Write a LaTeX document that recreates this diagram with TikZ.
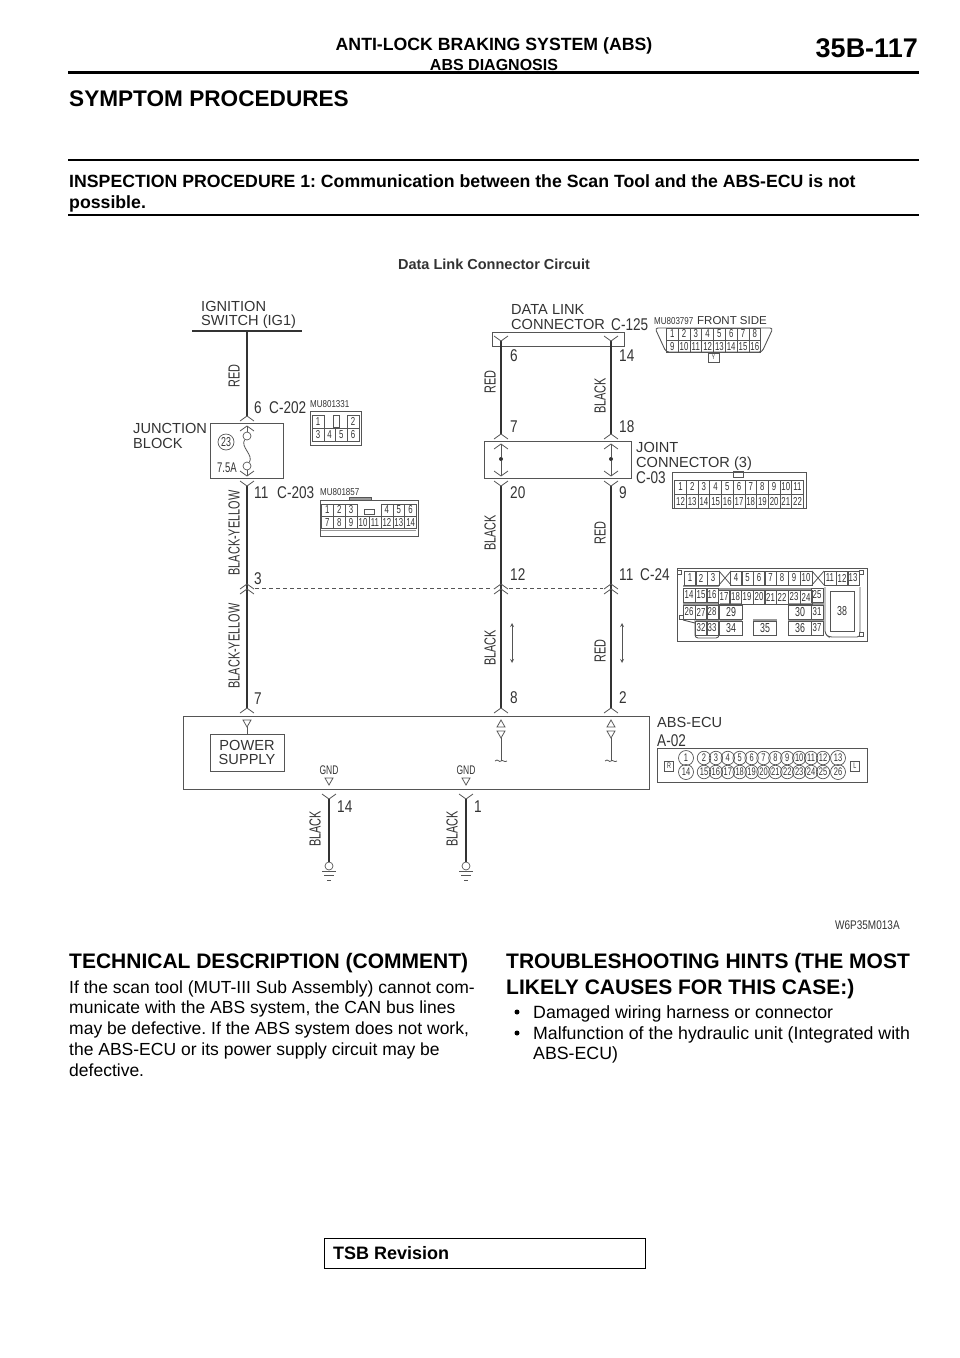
\documentclass[tikz,border=0pt]{standalone}
\usepackage{fontspec}
\usepackage{amsmath}
\setmainfont{Liberation Sans}
\newfontfamily\narrowfont[FakeStretch=0.68]{Liberation Sans}
\newfontfamily\codefont[FakeStretch=0.8]{Liberation Sans}
\usetikzlibrary{positioning, arrows, matrix}
\definecolor{inkdark}{HTML}{333333}
\definecolor{inkline}{HTML}{555555}
\definecolor{inkbar}{HTML}{999999}
\newcommand{\fs}[1]{\fontsize{#1}{#1}\selectfont}
\frenchspacing
\tikzset{
    wire/.style={draw=inkdark, line width=2.1pt},
    thinline/.style={draw=inkline, line width=0.8pt},
    partbox/.style={draw=inkline, line width=0.9pt},
    rulethin/.style={draw=black, line width=1.5pt},
    barline/.style={draw=inkbar, line width=2pt},
    txt/.style={anchor=west, inner sep=0pt, text=black},
    bodytxt/.style={txt, font=\fs{17.5}, text height=15.7pt, text depth=3.2pt},
    hinttxt/.style={bodytxt, font=\fs{17.75}},
    headtxt/.style={txt, font=\bfseries\fs{21}, text height=18.9pt, text depth=3.9pt},
    insptxt/.style={txt, font=\bfseries\fs{17.7}, text height=15.9pt, text depth=3.3pt},
    schem/.style={txt, text=inkdark, font=\fs{14.6}, text height=13.1pt, text depth=2.7pt},
    code/.style={txt, text=inkdark, font=\codefont\fs{17}, text height=15.3pt, text depth=3.1pt},
    wirelab/.style={inner sep=0pt, rotate=90, text=inkdark, font=\narrowfont\fs{16}},
    partno/.style={txt, text=inkdark, font=\codefont\fs{10}, text height=9pt, text depth=1.8pt},
    pin/.style={draw=inkline, line width=0.6pt, inner sep=0pt, minimum width=#1, minimum height=14pt, text=inkdark, font=\narrowfont\fs{11.5}},
    pin/.default=11.7pt,
    pinmatrix/.style={matrix of nodes, inner sep=0pt, column sep=-0.6pt, row sep=-0.6pt, nodes={pin=#1}},
    sock/.style={circle, draw=inkline, line width=0.7pt, inner sep=0pt, minimum size=#1, text=inkdark, font=\narrowfont\fs{11}},
    chevup/.pic={\draw[thinline] (-7,5) -- (0,0) -- (7,5);},
    chevdn/.pic={\draw[thinline] (-7,-5) -- (0,0) -- (7,-5);},
    triup/.pic={\draw[thinline] (-4,7) -- (0,0) -- (4,7) -- cycle;},
    tridn/.pic={\draw[thinline] (-4,0) -- (4,0) -- (0,7) -- cycle;},
    gndbars/.pic={\draw[thinline] (-7,0) -- (7,0) (-5,4) -- (5,4) (-2,9) -- (2,9);},
}
\begin{document}
\begin{tikzpicture}[x=1pt,y=-1pt]
\useasboundingbox (0,0) rectangle (960,1358);
% page head
\node[anchor=center, inner sep=0pt, font=\bfseries\fs{17.7}] (title) at (494,45.5) {ANTI-LOCK BRAKING SYSTEM (ABS)};
\node[anchor=center, inner sep=0pt, font=\bfseries\fs{16}] (subtitle) at (494,64.5) {ABS DIAGNOSIS};
\node[anchor=east, inner sep=0pt, font=\bfseries\fs{27}] (pageno) at (918,48.5) {35B-117};
\draw[draw=black, line width=3pt] (68,72) -- (919,72);
\node[txt, font=\bfseries\fs{22.6}, text height=20.3pt, text depth=4.2pt] (symptom) at (69,98) {SYMPTOM PROCEDURES};
\draw[rulethin] (68,160) -- (919,160);
\node[insptxt] (insp1) at (69,181) {INSPECTION PROCEDURE 1: Communication between the Scan Tool and the ABS-ECU is not};
\node[insptxt] (insp2) at (69,202) {possible.};
\draw[rulethin] (68,215) -- (919,215);
\node[anchor=center, inner sep=0pt, text=inkdark, font=\bfseries\fs{14.5}] (circuit) at (494,264) {Data Link Connector Circuit};
% ignition side
\node[schem] (ignA) at (201,306) {IGNITION};
\node[schem] (ignB) at (201,320) {SWITCH (IG1)};
\coordinate (ignL) at (192,331);
\coordinate (ignR) at (302,331);
\coordinate (ignM) at (247,331);
\draw[draw=inkdark, line width=1.8pt] (ignL) -- (ignR);
\coordinate (c202) at (247,416);
\coordinate (c202b) at (247,426);
\coordinate (c203t) at (247,476);
\coordinate (c203) at (247,486);
\coordinate (s3t) at (247,584);
\coordinate (s3b) at (247,589);
\coordinate (a7) at (247,708);
\draw[wire] (ignM) -- (c202);
\draw[wire] (c203) -- (s3t);
\draw[wire] (s3t) -- (a7);
\pic at (c202) {chevup};
\pic at (c202b) {chevup};
\pic at (c203t) {chevdn};
\pic at (c203) {chevdn};
\pic at (s3t) {chevup};
\pic at (s3b) {chevup};
\pic at (a7) {chevup};
\node[wirelab] (labA) at (234,376) {RED};
\node[wirelab] (labB) at (234,533) {BLACK-YELLOW};
\node[wirelab] (labC) at (234,646) {BLACK-YELLOW};
\node[code] (n6) at (254,407) {6};
\node[code] (c202txt) at (269,407) {C-202};
\node[code] (n11) at (254,492) {11};
\node[code] (c203txt) at (277,492) {C-203};
\node[code] (n3) at (254,578) {3};
\node[code] (n7) at (254,698) {7};
% junction block
\node[schem] (jbA) at (133,428) {JUNCTION};
\node[schem] (jbB) at (133,443) {BLOCK};
\node[partbox, minimum width=73pt, minimum height=55pt, inner sep=0pt] (jb) at (246.5,450.5) {};
\node[sock=8pt] (fuseA) at (247,436) {};
\node[sock=8pt] (fuseB) at (247,466) {};
\draw[thinline] (c202b) -- (fuseA);
\draw[thinline] (fuseB) -- (c203t);
\draw[thinline] (fuseA) .. controls (240,447) and (254,455) .. (fuseB);
\node[sock=16pt, font=\narrowfont\fs{13}] (fuse23) at (226,442) {23};
\node[code, font=\narrowfont\fs{14}] (amps) at (217,466) {7.5A};
% C-202 and C-203 views
\node[partno] (mu1) at (310,404) {MU801331};
\draw[partbox] (310,411) -- (361,411) -- (361,445) -- (310,445) -- cycle;
\matrix (c202m) [pinmatrix=11.7pt, anchor=center, nodes={minimum height=13pt}] at (335.5,428)
{%
    1 & & & 2\\
    3 & 4 & 5 & 6\\
};
\node[draw=inkline, line width=0.6pt, inner sep=0pt, minimum width=6pt, minimum height=12pt] (c202key) at (336,421) {};
\node[partno] (mu2) at (320,492) {MU801857};
\node[partbox, minimum width=98pt, minimum height=36pt, inner sep=0pt] (c203v) at (369,518) {};
\node[draw=inkline, fill=inkbar, line width=0.6pt, inner sep=0pt, minimum width=22pt, minimum height=3pt] (c203key) at (360,498.5) {};
\matrix (c203m) [pinmatrix=11.9pt, anchor=center, nodes={minimum height=12pt}] at (369,516)
{%
    1 & 2 & 3 & & & 4 & 5 & 6\\
    7 & 8 & 9 & 10 & 11 & 12 & 13 & 14\\
};
\node[draw=inkline, line width=0.6pt, inner sep=0pt, minimum width=10pt, minimum height=5pt] (c203notch) at (369,512) {};
\draw[barline, line width=1pt] (c203m.south west) ++(0,2) -- ++(95,0);
% data link side
\node[schem] (dlcA) at (511,309) {DATA LINK};
\node[schem] (dlcB) at (511,324) {CONNECTOR};
\node[code] (c125txt) at (611,324) {C-125};
\node[partbox, minimum width=132pt, minimum height=14pt, inner sep=0pt] (dlc) at (558,339) {};
\foreach \wx/\wn in {501/L, 611/R}
{
    \coordinate (dlc\wn) at (\wx,341);
    \coordinate (jt\wn) at (\wx,434);
    \coordinate (jtb\wn) at (\wx,444);
    \coordinate (jtc\wn) at (\wx,476);
    \coordinate (jbt\wn) at (\wx,486);
    \coordinate (st\wn) at (\wx,584);
    \coordinate (sb\wn) at (\wx,589);
    \coordinate (ec\wn) at (\wx,708);
    \draw[wire] (dlc\wn) -- (jt\wn);
    \draw[wire] (jbt\wn) -- (st\wn);
    \draw[wire] (st\wn) -- (ec\wn);
    \pic at (dlc\wn) {chevdn};
    \pic at (jt\wn) {chevup};
    \pic at (jtb\wn) {chevup};
    \pic at (jtc\wn) {chevdn};
    \pic at (jbt\wn) {chevdn};
    \pic at (st\wn) {chevup};
    \pic at (sb\wn) {chevup};
    \pic at (ec\wn) {chevup};
    \node[circle, fill=inkdark, inner sep=0pt, minimum size=4pt] (dot\wn) at (\wx,459) {};
    \draw[thinline] (jtb\wn) -- (dot\wn);
    \draw[thinline] (dot\wn) -- (jtc\wn);
    % ecu input
    \pic at (\wx,720) {triup};
    \pic at (\wx,731) {tridn};
    \coordinate (ecIn\wn) at (\wx,738);
    \coordinate (ecEnd\wn) at (\wx,761);
    \draw[thinline] (ecIn\wn) -- (ecEnd\wn);
    \draw[thinline] (\wx-6,761) .. controls (\wx-3,758) and (\wx-2,763) .. (ecEnd\wn) .. controls (\wx+2,759) and (\wx+3,763) .. (\wx+6,761);
    % data direction
    \coordinate (flowA\wn) at (\wx+11,623);
    \coordinate (flowB\wn) at (\wx+11,663);
    \draw[stealth-stealth, draw=inkline, line width=0.8pt] (flowA\wn) -- (flowB\wn);
}
\draw[thinline, dashed, dash pattern=on 4pt off 3pt] (255,588) -- (493,588) (509,588) -- (603,588);
\node[partbox, minimum width=147pt, minimum height=37pt, inner sep=0pt] (joint) at (557.5,459.5) {};
\node[wirelab] (labD) at (490,382) {RED};
\node[wirelab] (labE) at (600,396) {BLACK};
\node[wirelab] (labF) at (490,533) {BLACK};
\node[wirelab] (labG) at (600,533) {RED};
\node[wirelab] (labH) at (490,648) {BLACK};
\node[wirelab] (labI) at (600,651) {RED};
\foreach \nx/\ny/\lab in {510/355/6, 619/355/14, 510/426/7, 619/426/18, 510/492/20, 619/492/9, 510/574/12, 619/574/11, 510/697/8, 619/697/2}
    \node[code] (w\lab) at (\nx,\ny) {\lab};
\node[code] (c24txt) at (640,574) {C-24};
\node[schem] (jcA) at (636,447) {JOINT};
\node[schem] (jcB) at (636,462) {CONNECTOR (3)};
\node[code] (c03txt) at (636,477) {C-03};
% data link connector view
\node[partno] (mu3) at (654,321) {MU803797};
\node[txt, text=inkdark, font=\fs{11.5}] (front) at (697,321) {FRONT SIDE};
\draw[partbox, rounded corners=3pt] (655,328) -- (773,328) -- (762,352) -- (666,352) -- cycle;
\matrix (dlcm) [pinmatrix=11.8pt, anchor=center, nodes={minimum height=12pt}] at (713.5,340)
{%
    1 & 2 & 3 & 4 & 5 & 6 & 7 & 8\\
    9 & 10 & 11 & 12 & 13 & 14 & 15 & 16\\
};
\node[pin=11pt, minimum height=9pt, font=\narrowfont\fs{7}, below=0pt of dlcm] (ykey) {Y};
% joint connector view
\node[partbox, minimum width=134pt, minimum height=36pt, inner sep=0pt] (c03v) at (739,490) {};
\node[partbox, minimum width=10pt, minimum height=6pt, inner sep=0pt] (c03key) at (738,474.5) {};
\matrix (c03m) [pinmatrix=11.7pt, anchor=center] at (739,494)
{%
    1 & 2 & 3 & 4 & 5 & 6 & 7 & 8 & 9 & 10 & 11\\
    12 & 13 & 14 & 15 & 16 & 17 & 18 & 19 & 20 & 21 & 22\\
};
% C-24 view
\node[partbox, minimum width=190pt, minimum height=73pt, inner sep=0pt] (c24v) at (772,604.5) {};
\draw[partbox, rounded corners=3pt] (695,620) -- (695,638) -- (719,638) -- (719,620);
\draw[partbox, rounded corners=3pt] (683,620) -- (695,623) ;
\draw[partbox, rounded corners=3pt] (825,587) -- (825,634) -- (829,637) -- (860,637) -- (860,587);
\foreach \sx/\sy in {679/572, 861/572, 681/617, 861/634}
    \node[draw=inkline, line width=0.6pt, fill=white, inner sep=0pt, minimum size=4pt] at (\sx,\sy) {};
\foreach \bxa/\bya/\bxb/\byb in {683/586/719/586, 719/589/812/589, 683/604/719/604, 720/604/742/604, 788/604/812/604, 696/620/719/620, 720/620/742/620, 753/620/777/620, 788/620/812/620, 812/604/824/604, 812/620/824/620}
    \draw[barline] (\bxa,\bya) -- (\bxb,\byb);
\foreach \lab/\px in {1/690, 2/701, 3/713, 4/736, 5/747.5, 6/759, 7/770.5, 8/782, 9/794, 10/806, 11/830, 12/842, 13/853}
    \node[pin=11.7pt] (p\lab) at (\px,578) {\lab};
\foreach \lab/\px in {14/689, 15/701, 16/712, 25/817}
    \node[pin=11.7pt] (p\lab) at (\px,595) {\lab};
\foreach \lab/\px in {17/724, 18/735.5, 19/747, 20/759, 21/770.5, 22/782, 23/794, 24/806}
    \node[pin=11.7pt] (p\lab) at (\px,597) {\lab};
\foreach \lab/\px in {26/689, 27/701, 28/712, 31/817}
    \node[pin=11.7pt] (p\lab) at (\px,612) {\lab};
\foreach \lab/\px in {32/701, 33/712, 37/817}
    \node[pin=11.7pt] (p\lab) at (\px,628) {\lab};
\node[pin=23pt, font=\narrowfont\fs{13}] (p29) at (731,612) {29};
\node[pin=23pt, font=\narrowfont\fs{13}] (p30) at (800,612) {30};
\node[pin=23pt, font=\narrowfont\fs{13}] (p34) at (731,628.5) {34};
\node[pin=23pt, font=\narrowfont\fs{13}] (p35) at (765,628.5) {35};
\node[pin=23pt, font=\narrowfont\fs{13}] (p36) at (800,628.5) {36};
\node[pin=24pt, minimum height=40pt, font=\narrowfont\fs{13}] (p38) at (842,611) {38};
\draw[thinline] (719,571) -- (731,585) (731,571) -- (719,585);
\draw[thinline] (812,571) -- (824,585) (824,571) -- (812,585);
% ecu
\node[partbox, minimum width=466.5pt, minimum height=73pt, inner sep=0pt] (ecu) at (416.25,752.5) {};
\node[schem] (ecuA) at (657,722) {ABS-ECU};
\node[code] (a02txt) at (657,740) {A-02};
\pic at (247,720) {tridn};
\coordinate (psIn) at (247,727);
\node[partbox, minimum width=74pt, minimum height=37pt, inner sep=0pt, align=center, text=inkdark, font=\fs{14.6}] (power) at (247,752.5) {POWER\\[0pt]SUPPLY};
\draw[thinline] (psIn) -- (power);
% ground wires
\foreach \gx/\gn/\gt in {329/A/14, 466/B/1}
{
    \node[inner sep=0pt, text=inkdark, font=\narrowfont\fs{12.5}] (gnd\gn) at (\gx,770) {GND};
    \pic at (\gx,778) {tridn};
    \coordinate (gt\gn) at (\gx,799);
    \pic at (gt\gn) {chevdn};
    \node[sock=8pt] (gc\gn) at (\gx,866) {};
    \draw[wire] (gt\gn) -- (gc\gn);
    \pic at (\gx,871) {gndbars};
    \node[wirelab] (gl\gn) at (\gx-14,829) {BLACK};
    \node[code] (gp\gn) at (\gx+8,806) {\gt};
}
% A-02 view
\node[partbox, minimum width=210pt, minimum height=34pt, inner sep=0pt] (a02v) at (762,765) {};
\node[pin=9pt, minimum height=10pt, font=\narrowfont\fs{8}] (rkey) at (669,766) {R};
\node[pin=9pt, minimum height=10pt, font=\narrowfont\fs{8}] (lkey) at (855,766) {L};
\node[sock=15pt] (s1) at (686,758) {1};
\node[sock=15pt] (s14) at (686,772) {14};
\node[sock=15pt] (s13) at (838,758) {13};
\node[sock=15pt] (s26) at (838,772) {26};
\foreach \lab [evaluate=\lab as \px using 704+(\lab-2)*11.9] in {2,...,12}
    \node[sock=13.5pt] (s\lab) at (\px,758) {\lab};
\foreach \lab [evaluate=\lab as \px using 704+(\lab-15)*11.9] in {15,...,25}
    \node[sock=13.5pt] (s\lab) at (\px,772) {\lab};
\node[txt, text=inkdark, font=\codefont\fs{12.5}] (figcode) at (835,925) {W6P35M013A};
% text below
\node[headtxt] (techA) at (69,961) {TECHNICAL DESCRIPTION (COMMENT)};
\node[bodytxt] (techB) at (69,987) {If the scan tool (MUT-III Sub Assembly) cannot com-};
\node[bodytxt] (techC) at (69,1007) {municate with the ABS system, the CAN bus lines};
\node[bodytxt] (techD) at (69,1028) {may be defective. If the ABS system does not work,};
\node[bodytxt] (techE) at (69,1049) {the ABS-ECU or its power supply circuit may be};
\node[bodytxt] (techF) at (69,1070) {defective.};
\node[headtxt] (hintA) at (506,961) {TROUBLESHOOTING HINTS (THE MOST};
\node[headtxt] (hintB) at (506,987) {LIKELY CAUSES FOR THIS CASE:)};
\node[circle, fill=black, inner sep=0pt, minimum size=5pt] (bulA) at (517,1012) {};
\node[hinttxt] (hintC) at (533,1012) {Damaged wiring harness or connector};
\node[circle, fill=black, inner sep=0pt, minimum size=5pt] (bulB) at (517,1033) {};
\node[hinttxt] (hintD) at (533,1033) {Malfunction of the hydraulic unit (Integrated with};
\node[hinttxt] (hintE) at (533,1053) {ABS-ECU)};
\node[draw=black, line width=0.8pt, minimum width=321pt, minimum height=30pt, inner sep=0pt] (tsbbox) at (484.5,1253) {};
\node[txt, font=\bfseries\fs{18}] (tsb) at (333,1253) {TSB Revision};
\end{tikzpicture}
\end{document}
